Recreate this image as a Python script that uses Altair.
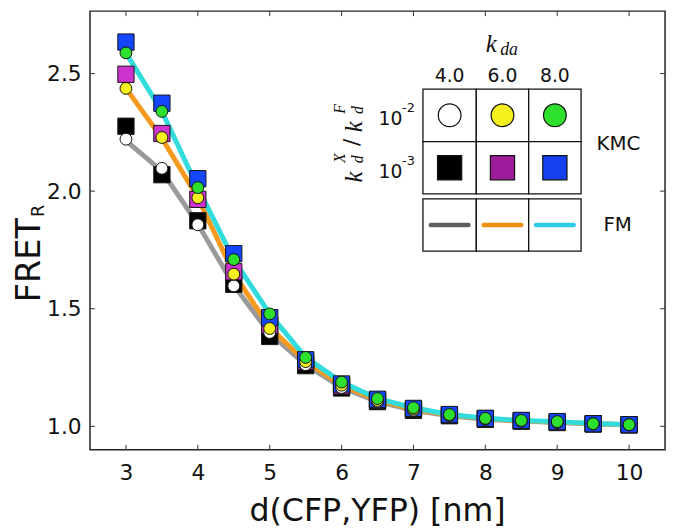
import altair as alt
import pandas as pd

# ---------------- data ----------------
d_nm = [3.0, 3.5, 4.0, 4.5, 5.0, 5.5, 6.0, 6.5, 7.0, 7.5, 8.0, 8.5, 9.0, 9.5, 10.0]

# KMC, kdX/kdF = 1e-2 (circles)
kmc_circ_kda4 = [2.221, 2.097, 1.857, 1.597, 1.399, 1.262, 1.165, 1.105, 1.068, 1.045, 1.030, 1.022, 1.016, 1.010, 1.006]
kmc_circ_kda6 = [2.437, 2.228, 1.972, 1.647, 1.416, 1.275, 1.175, 1.110, 1.073, 1.048, 1.032, 1.023, 1.018, 1.011, 1.007]
kmc_circ_kda8 = [2.588, 2.339, 2.015, 1.709, 1.478, 1.293, 1.188, 1.118, 1.079, 1.050, 1.034, 1.025, 1.020, 1.011, 1.007]
# KMC, kdX/kdF = 1e-3 (squares)
kmc_sq_kda4 = [2.276, 2.070, 1.874, 1.604, 1.382, 1.258, 1.163, 1.105, 1.068, 1.045, 1.030, 1.022, 1.016, 1.010, 1.006]
kmc_sq_kda6 = [2.497, 2.245, 1.965, 1.657, 1.430, 1.275, 1.172, 1.110, 1.072, 1.048, 1.032, 1.023, 1.018, 1.011, 1.007]
kmc_sq_kda8 = [2.634, 2.374, 2.053, 1.734, 1.462, 1.283, 1.180, 1.115, 1.076, 1.050, 1.034, 1.025, 1.020, 1.011, 1.007]
# FM curves
fm_kda4 = [2.215, 2.085, 1.860, 1.600, 1.395, 1.262, 1.165, 1.105, 1.068, 1.045, 1.030, 1.022, 1.016, 1.010, 1.006]
fm_kda6 = [2.437, 2.225, 1.972, 1.650, 1.420, 1.275, 1.175, 1.110, 1.073, 1.048, 1.032, 1.023, 1.018, 1.011, 1.007]
fm_kda8 = [2.588, 2.339, 2.015, 1.709, 1.478, 1.293, 1.188, 1.118, 1.079, 1.050, 1.034, 1.025, 1.020, 1.012, 1.008]

kda_labels = ["4.0", "6.0", "8.0"]
ratio_exponents = ["-2", "-3"]
x_ticks = [3, 4, 5, 6, 7, 8, 9, 10]
y_ticks = [1.0, 1.5, 2.0, 2.5]

# ---------------- tables ----------------
def long(series_list, names):
    rows = []
    for name, vals in zip(names, series_list):
        for d, v in zip(d_nm, vals):
            rows.append({"d": d, "fret": v, "series": name})
    return pd.DataFrame(rows)

circ_names = ["c4", "c6", "c8"]
sq_names = ["s4", "s6", "s8"]
fm_names = ["f4", "f6", "f8"]
circ_df = long([kmc_circ_kda4, kmc_circ_kda6, kmc_circ_kda8], circ_names)
sq_df = long([kmc_sq_kda4, kmc_sq_kda6, kmc_sq_kda8], sq_names)
fm_df = long([fm_kda4, fm_kda6, fm_kda8], fm_names)

circ_colors = ["#ffffff", "#f5f01e", "#2ee02e"]
sq_colors = ["#000000", "#cc33cc", "#1446ff"]
fm_colors = ["#9a9a9a", "#f59a1e", "#33dcdc"]
sq_leg_colors = ["#000000", "#9c1c9c", "#1440f0"]
fm_leg_colors = ["#5f5f5f", "#f0900e", "#2dcde8"]

# legend layout in data units
col_edges = [7.132, 7.874, 8.603, 9.332]
row_edges = [2.434, 2.211, 1.988]
fm_edges = [1.967, 1.745]
col_c = [(col_edges[i] + col_edges[i + 1]) / 2 for i in range(3)]
row_c = [(row_edges[0] + row_edges[1]) / 2, (row_edges[1] + row_edges[2]) / 2]
fm_c = (fm_edges[0] + fm_edges[1]) / 2

xsc = alt.Scale(domain=[2.5, 10.5], nice=False, zero=False)
ysc = alt.Scale(domain=[0.9, 2.7655], nice=False, zero=False)
xaxis = alt.Axis(values=x_ticks, format="d", ticks=False, domain=False, grid=False,
                 labelFontSize=22, labelPadding=13, labelColor="#111", title=None,
                 labelFont="DejaVu Sans")
yaxis = alt.Axis(values=y_ticks, format=".1f", ticks=False, domain=False, grid=False,
                 labelFontSize=22, labelPadding=9, labelColor="#111", title=None,
                 labelFont="DejaVu Sans")


def X(f):
    return alt.X(f"{f}:Q", scale=xsc, axis=xaxis)


def Y(f):
    return alt.Y(f"{f}:Q", scale=ysc, axis=yaxis)


# ---------------- main marks ----------------
lines = alt.Chart(fm_df).mark_line(strokeWidth=5, strokeCap="round").encode(
    x=X("d"), y=Y("fret"),
    color=alt.Color("series:N", scale=alt.Scale(domain=fm_names, range=fm_colors), legend=None),
)

squares = alt.Chart(sq_df).mark_point(
    shape="square", filled=True, size=272, stroke="#151515", strokeWidth=1, opacity=1
).encode(
    x=X("d"), y=Y("fret"),
    fill=alt.Fill("series:N", scale=alt.Scale(domain=sq_names, range=sq_colors), legend=None),
)

circles = alt.Chart(circ_df).mark_point(
    shape="circle", filled=True, size=144, stroke="#111", strokeWidth=1, opacity=1
).encode(
    x=X("d"), y=Y("fret"),
    fill=alt.Fill("series:N", scale=alt.Scale(domain=circ_names, range=circ_colors), legend=None),
)

# inward ticks
tx = pd.DataFrame({"t": x_ticks})
ty = pd.DataFrame({"t": y_ticks})
tick_style = dict(color="#333", strokeWidth=1)
ticks = [
    alt.Chart(tx).mark_rule(**tick_style).encode(x=X("t"), y=alt.value(444), y2=alt.value(439)),
    alt.Chart(tx).mark_rule(**tick_style).encode(x=X("t"), y=alt.value(0), y2=alt.value(5)),
    alt.Chart(ty).mark_rule(**tick_style).encode(y=Y("t"), x=alt.value(0), x2=alt.value(5)),
    alt.Chart(ty).mark_rule(**tick_style).encode(y=Y("t"), x=alt.value(582), x2=alt.value(577)),
]

# ---------------- legend table ----------------
cells = []
for i in range(3):
    for j in range(2):
        cells.append({"x1": col_edges[i], "x2": col_edges[i + 1], "y1": row_edges[j], "y2": row_edges[j + 1]})
    cells.append({"x1": col_edges[i], "x2": col_edges[i + 1], "y1": fm_edges[0], "y2": fm_edges[1]})
cells_df = pd.DataFrame(cells)
leg_cells = alt.Chart(cells_df).mark_rect(fill="white", stroke="#111", strokeWidth=1.3).encode(
    x=X("x1"), x2="x2", y=Y("y1"), y2="y2"
)

leg_circ_df = pd.DataFrame({"lx": col_c, "ly": [row_c[0]] * 3, "series": circ_names})
leg_sq_df = pd.DataFrame({"lx": col_c, "ly": [row_c[1]] * 3, "series": sq_names})
leg_circ = alt.Chart(leg_circ_df).mark_point(
    shape="circle", filled=True, size=529, stroke="#111", strokeWidth=1.2, opacity=1
).encode(
    x=X("lx"), y=Y("ly"),
    fill=alt.Fill("series:N", scale=alt.Scale(domain=circ_names, range=circ_colors), legend=None),
)
leg_sq = alt.Chart(leg_sq_df).mark_point(
    shape="square", filled=True, size=600, stroke="#111", strokeWidth=1.2, opacity=1
).encode(
    x=X("lx"), y=Y("ly"),
    fill=alt.Fill("series:N", scale=alt.Scale(domain=sq_names, range=sq_leg_colors), legend=None),
)
leg_fm_df = pd.DataFrame({
    "lx1": [c - 0.262 for c in col_c], "lx2": [c + 0.262 for c in col_c],
    "ly": [fm_c] * 3, "series": fm_names,
})
leg_fm = alt.Chart(leg_fm_df).mark_rule(strokeWidth=4.5, strokeCap="round").encode(
    x=X("lx1"), x2="lx2", y=Y("ly"),
    color=alt.Color("series:N", scale=alt.Scale(domain=fm_names, range=fm_leg_colors), legend=None),
)


def text_layer(df, **mk):
    return alt.Chart(df).mark_text(**mk).encode(x=X("tx"), y=Y("ty"), text="label:N")


hdr = text_layer(pd.DataFrame({"tx": col_c, "ty": [2.490] * 3, "label": kda_labels}),
                 fontSize=19, font="DejaVu Sans", color="#111")
kda_k = text_layer(pd.DataFrame({"tx": [8.081], "ty": [2.625], "label": ["k"]}),
                   fontSize=25, font="Liberation Serif", fontStyle="italic", color="#111")
kda_sub = text_layer(pd.DataFrame({"tx": [8.33], "ty": [2.600], "label": ["da"]}),
                     fontSize=18, font="Liberation Serif", fontStyle="italic", color="#111")
ten = text_layer(pd.DataFrame({"tx": [6.679, 6.679], "ty": [2.308, 2.083], "label": ["10", "10"]}),
                 fontSize=19, font="DejaVu Sans", color="#111")
ten_sup = text_layer(pd.DataFrame({"tx": [6.93, 6.93], "ty": [2.352, 2.128], "label": ratio_exponents}),
                     fontSize=13, font="DejaVu Sans", color="#111")
kmc_txt = text_layer(pd.DataFrame({"tx": [9.85], "ty": [2.200], "label": ["KMC"]}),
                     fontSize=20, font="DejaVu Sans", color="#111")
fm_txt = text_layer(pd.DataFrame({"tx": [9.84], "ty": [1.854], "label": ["FM"]}),
                    fontSize=20, font="DejaVu Sans", color="#111")

# rotated ratio label k_d^X / k_d^F
rot_big = text_layer(pd.DataFrame({"tx": [6.180, 6.180], "ty": [2.060, 2.274], "label": ["k", "k"]}),
                     fontSize=25, font="Liberation Serif", fontStyle="italic", angle=270, color="#111")
rot_small = text_layer(pd.DataFrame({"tx": [5.985, 6.235, 5.985, 6.235],
                                     "ty": [2.140, 2.135, 2.350, 2.345],
                                     "label": ["X", "d", "F", "d"]}),
                       fontSize=16, font="Liberation Serif", fontStyle="italic", angle=270, color="#111")
rot_slash = text_layer(pd.DataFrame({"tx": [6.140], "ty": [2.207], "label": ["/"]}),
                       fontSize=22, font="DejaVu Sans", angle=270, color="#111")

# ---------------- axis titles ----------------
ytitle = alt.Chart(pd.DataFrame({"label": ["FRET"]})).mark_text(
    fontSize=34, font="DejaVu Sans", angle=270, baseline="alphabetic", color="#111"
).encode(x=alt.value(-51), y=alt.value(252), text="label:N")
ytitle_sub = alt.Chart(pd.DataFrame({"label": ["R"]})).mark_text(
    fontSize=18, font="DejaVu Sans", angle=270, baseline="alphabetic", color="#111"
).encode(x=alt.value(-47), y=alt.value(202), text="label:N")
xtitle = alt.Chart(pd.DataFrame({"label": ["d(CFP,YFP) [nm]"]})).mark_text(
    fontSize=32, font="DejaVu Sans", baseline="alphabetic", color="#111"
).encode(x=alt.value(291), y=alt.value(516), text="label:N")

chart = alt.layer(
    lines, squares, circles, *ticks,
    leg_cells, leg_circ, leg_sq, leg_fm,
    hdr, kda_k, kda_sub, ten, ten_sup, kmc_txt, fm_txt,
    rot_big, rot_small, rot_slash,
    ytitle, ytitle_sub, xtitle,
).resolve_scale(
    fill="independent", color="independent"
).properties(
    width=582, height=444,
    padding={"left": 83, "top": 0, "right": 3, "bottom": 79},
    autosize=alt.AutoSizeParams(type="none"),
    background="white",
).configure(
    font="DejaVu Sans"
).configure_view(
    stroke="#222", strokeWidth=1.5
)

chart.save("out.html", embed_options={"renderer": "svg", "actions": False})
